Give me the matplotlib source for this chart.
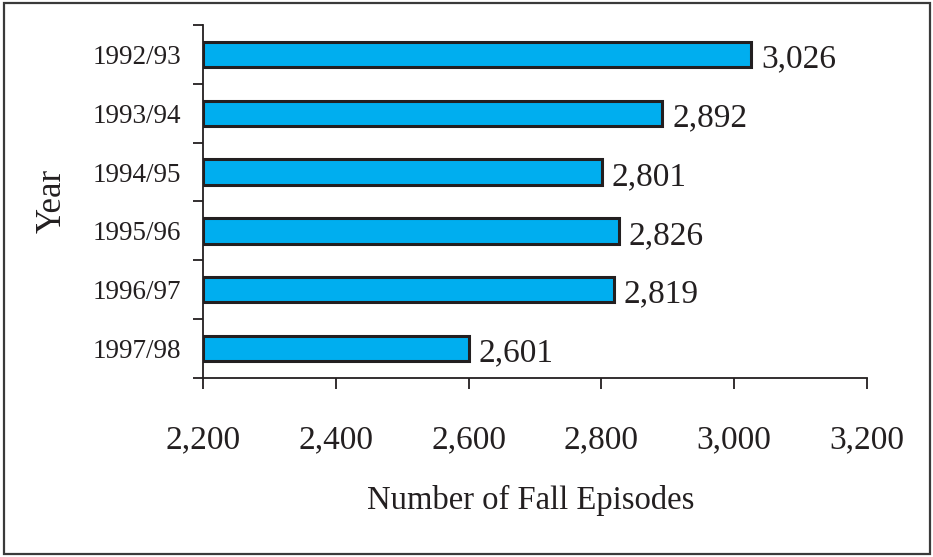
import matplotlib
matplotlib.use("Agg")
import matplotlib.pyplot as plt
from matplotlib.patches import Rectangle

# data
years = ["1992/93", "1993/94", "1994/95", "1995/96", "1996/97", "1997/98"]
falls = [3026, 2892, 2801, 2826, 2819, 2601]
x_ticks = [2200, 2400, 2600, 2800, 3000, 3200]

plt.rcParams['font.family'] = ['Liberation Serif', 'DejaVu Serif']
ink = '#231f20'

fig = plt.figure(figsize=(9.33, 5.57), dpi=100)
ax = fig.add_axes([0.2176, 0.3214, 0.7116, 0.6337])

base = x_ticks[0]
pos = list(range(len(years)))
ax.barh(pos, [v - base for v in falls], left=base, height=0.43,
        color='#00aeef', edgecolor=ink, linewidth=2.2, zorder=3)

for p, v in zip(pos, falls):
    ax.annotate(f"{v:,}", (v, p + 0.08), xytext=(7, 0),
                textcoords='offset points', va='center', ha='left',
                fontsize=24, color=ink)

ax.set_xlim(x_ticks[0], x_ticks[-1])
ax.set_ylim(len(years) - 0.5, -0.5)
ax.set_xticks(x_ticks)
ax.set_xticklabels([f"{t:,}" for t in x_ticks], fontsize=24, color=ink)

# category labels centred, ticks at the boundaries
ax.set_yticks(pos)
ax.set_yticklabels(years, fontsize=19.5, color=ink)
ax.set_yticks([p - 0.5 for p in range(len(years) + 1)], minor=True)
ax.tick_params(axis='y', which='major', length=0, pad=16)
ax.tick_params(axis='y', which='minor', length=7, width=1.3, color=ink,
               direction='out')
ax.tick_params(axis='x', length=8, width=1.3, color=ink, direction='out',
               pad=26)

for s in ['top', 'right']:
    ax.spines[s].set_visible(False)
for s in ['left', 'bottom']:
    ax.spines[s].set_color(ink)
    ax.spines[s].set_linewidth(1.3)

ax.set_xlabel("Number of Fall Episodes", fontsize=23.5, color=ink)
ax.xaxis.set_label_coords(0.493, -0.346)
ax.xaxis.label.set_va('center')
fig.text(0.056, 0.639, "Year", rotation=90, fontsize=25, color=ink,
         va='center', ha='center')

fig.patches.append(Rectangle((4 / 933, 3 / 557), 926 / 933, 551 / 557,
                             transform=fig.transFigure, fill=False,
                             edgecolor='#3a3a3a', linewidth=1.6))

fig.savefig("out.png", dpi=100)
